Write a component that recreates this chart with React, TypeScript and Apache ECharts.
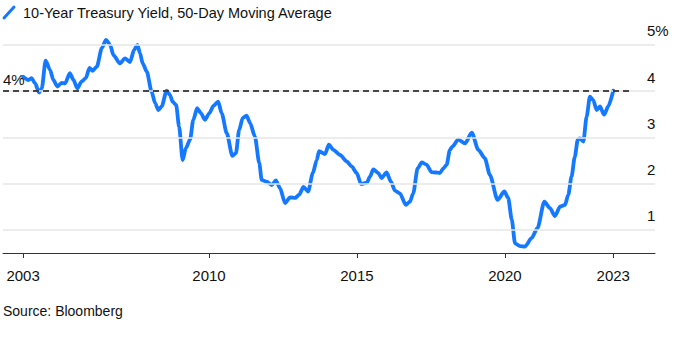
import React, { useEffect, useRef } from "react";
import * as echarts from "echarts";

const years = [
  2003.72, 2003.9, 2004.01, 2004.12, 2004.26, 2004.35, 2004.48, 2004.63, 2004.74, 2004.88,
  2005.02, 2005.14, 2005.3, 2005.42, 2005.55, 2005.7, 2005.84, 2005.96, 2006.07, 2006.21,
  2006.38, 2006.52, 2006.66, 2006.77, 2006.99, 2007.16, 2007.33, 2007.47, 2007.58, 2007.67,
  2007.76, 2007.9, 2008.06, 2008.18, 2008.29, 2008.4, 2008.57, 2008.68, 2008.77, 2008.89,
  2008.99, 2009.11, 2009.22, 2009.36, 2009.47, 2009.6, 2009.73, 2009.86, 2010.01, 2010.15,
  2010.31, 2010.43, 2010.6, 2010.79, 2010.91, 2011.02, 2011.14, 2011.27, 2011.39, 2011.55,
  2011.7, 2011.78, 2011.95, 2012.12, 2012.26, 2012.4, 2012.57, 2012.74, 2012.91, 2013.05,
  2013.19, 2013.35, 2013.51, 2013.64, 2013.72, 2013.92, 2014.05, 2014.2, 2014.43, 2014.65,
  2014.82, 2014.99, 2015.14, 2015.33, 2015.44, 2015.55, 2015.72, 2015.83, 2016.0, 2016.15,
  2016.28, 2016.45, 2016.65, 2016.79, 2016.9, 2017.05, 2017.19, 2017.35, 2017.52, 2017.69,
  2017.8, 2017.92, 2018.03, 2018.14, 2018.22, 2018.42, 2018.65, 2018.88, 2019.1, 2019.32,
  2019.49, 2019.75, 2019.98, 2020.11, 2020.23, 2020.34, 2020.51, 2020.68, 2020.9, 2021.1,
  2021.33, 2021.52, 2021.69, 2021.86, 2022.03, 2022.14, 2022.25, 2022.36, 2022.46, 2022.53,
  2022.65, 2022.76, 2022.87, 2022.98, 2023.1, 2023.21, 2023.35, 2023.49, 2023.66,
];

const yields = [
  4.31, 4.24, 4.28, 4.17, 3.97, 4.06, 4.66, 4.46, 4.24, 4.1,
  4.18, 4.17, 4.39, 4.24, 4.06, 4.21, 4.28, 4.5, 4.44, 4.53,
  4.93, 5.11, 5.0, 4.78, 4.6, 4.71, 4.63, 4.89, 5.0, 4.82,
  4.6, 4.42, 3.99, 3.74, 3.59, 3.67, 4.01, 3.92, 3.77, 3.7,
  3.23, 2.51, 2.77, 2.95, 3.38, 3.63, 3.52, 3.38, 3.52, 3.68,
  3.77, 3.52, 3.09, 2.6, 2.66, 3.16, 3.42, 3.47, 3.31, 3.02,
  2.44, 2.08, 2.04, 1.97, 2.07, 1.9, 1.58, 1.7, 1.69, 1.76,
  1.93, 1.83, 2.23, 2.51, 2.7, 2.64, 2.84, 2.73, 2.62, 2.48,
  2.37, 2.23, 1.99, 2.02, 2.15, 2.31, 2.23, 2.12, 2.24, 2.04,
  1.85, 1.79, 1.54, 1.61, 1.79, 2.33, 2.46, 2.41, 2.25, 2.24,
  2.23, 2.33, 2.41, 2.73, 2.8, 2.95, 2.87, 3.1, 2.73, 2.55,
  2.19, 1.65, 1.83, 1.69, 1.22, 0.71, 0.65, 0.64, 0.82, 1.04,
  1.61, 1.47, 1.3, 1.5, 1.54, 1.76, 2.15, 2.58, 2.95, 2.98,
  2.91, 3.45, 3.88, 3.81, 3.59, 3.67, 3.49, 3.67, 4.01,
];

const xTickValues = [2003.72, 2010, 2015, 2020, 2023.66];
const xTickLabels = ["2003", "2010", "2015", "2020", "2023"];
const yTickValues = [1, 2, 3, 4, 5];
const yTickLabels = ["1", "2", "3", "4", "5%"];
const referenceLevel = 4;
const referenceLabel = "4%";
const titleText = "10-Year Treasury Yield, 50-Day Moving Average";
const sourceText = "Source: Bloomberg";

const X_MIN = 2003.04;
const X_MAX = 2025.07;
const DASH_END = 2024.29;
const BLUE = "#1479ff";
const FONT = "'Liberation Sans', Arial, sans-serif";

export default function App() {
  const ref = useRef<HTMLDivElement>(null);

  useEffect(() => {
    if (!ref.current) return;
    const chart = echarts.init(ref.current, null, { renderer: "svg" });
    const data = years.map((y, i) => [y, yields[i]]);
    chart.setOption({
      animation: false,
      textStyle: { fontFamily: FONT },
      grid: { left: 3, right: 24, top: 33.3, bottom: 84, containLabel: false },
      xAxis: {
        type: "value",
        min: X_MIN,
        max: X_MAX,
        splitLine: { show: false },
        axisLine: { show: true, lineStyle: { color: "#333", width: 1 } },
        axisTick: {
          show: true,
          customValues: xTickValues,
          length: 5,
          inside: false,
          lineStyle: { color: "#333", width: 1 },
        },
        axisLabel: {
          customValues: xTickValues,
          formatter: (v: number) => {
            const i = xTickValues.findIndex((t) => Math.abs(t - v) < 1e-6);
            return i >= 0 ? xTickLabels[i] : "";
          },
          color: "#111",
          fontSize: 15,
          fontFamily: FONT,
          margin: 15,
        },
      },
      yAxis: {
        type: "value",
        position: "right",
        min: 0.5,
        max: 5.25,
        splitLine: { show: false },
        axisLine: { show: false },
        axisTick: { show: false },
        axisLabel: {
          customValues: yTickValues,
          formatter: (v: number) => {
            const i = yTickValues.findIndex((t) => Math.abs(t - v) < 1e-6);
            return i >= 0 ? yTickLabels[i] : "";
          },
          color: "#111",
          fontSize: 15,
          fontFamily: FONT,
          margin: -8,
          align: "left",
          verticalAlign: "bottom",
          lineHeight: 16,
          padding: [0, 0, 6, 0],
        },
      },
      series: [
        {
          type: "line",
          data: [],
          z: 1,
          silent: true,
          markLine: {
            silent: true,
            symbol: "none",
            animation: false,
            label: { show: false },
            lineStyle: { color: "#e6e6e6", type: "solid", width: 1.5 },
            data: yTickValues.map((v) => ({ yAxis: v })),
          },
        },
        {
          type: "line",
          data: [],
          z: 2,
          silent: true,
          markLine: {
            silent: true,
            symbol: "none",
            animation: false,
            data: [
              [
                {
                  coord: [X_MIN, referenceLevel],
                  lineStyle: { color: "#111", type: [6, 4], width: 1.5 },
                  label: {
                    show: true,
                    position: "insideStartTop",
                    formatter: referenceLabel,
                    color: "#111",
                    fontSize: 15,
                    fontFamily: FONT,
                    distance: [0, 4],
                  },
                },
                { coord: [DASH_END, referenceLevel] },
              ],
            ],
          },
        },
        {
          type: "line",
          data,
          z: 3,
          showSymbol: false,
          symbol: "none",
          smooth: 0.25,
          smoothMonotone: "x",
          lineStyle: { color: BLUE, width: 3.8, cap: "round", join: "round" },
        },
      ],
      graphic: [
        {
          type: "line",
          shape: { x1: 4, y1: 18, x2: 14, y2: 7 },
          style: { stroke: BLUE, lineWidth: 3, lineCap: "round" },
        },
        {
          type: "text",
          left: 23,
          top: 5,
          style: { text: titleText, fontSize: 14.5, fontFamily: FONT, fill: "#111" },
        },
        {
          type: "text",
          left: 3,
          top: 304,
          style: { text: sourceText, fontSize: 14, fontFamily: FONT, fill: "#111" },
        },
      ],
    });
    return () => chart.dispose();
  }, []);

  return (
    <div
      ref={ref}
      style={{ position: "absolute", left: 0, top: 0, width: 679, height: 337, background: "#fff" }}
    />
  );
}
